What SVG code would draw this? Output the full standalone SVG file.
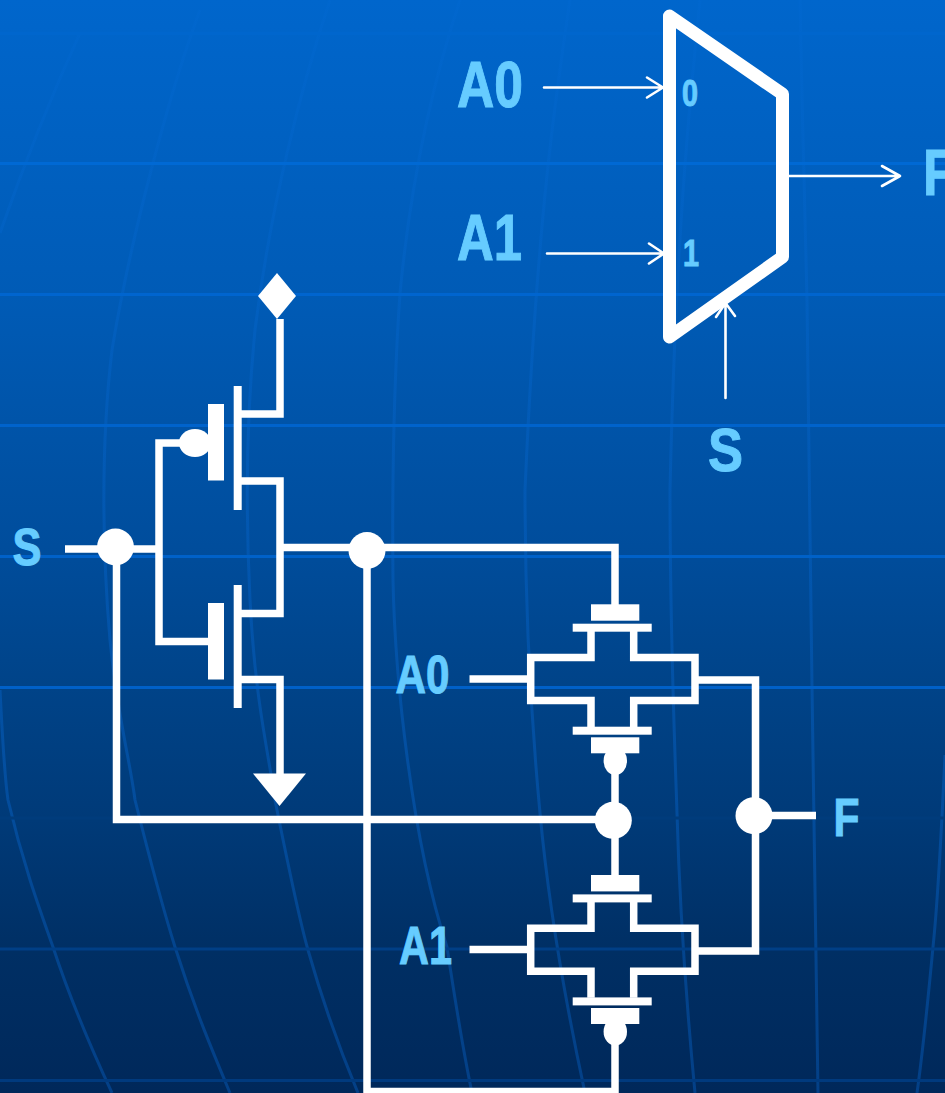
<svg xmlns="http://www.w3.org/2000/svg" xmlns:xlink="http://www.w3.org/1999/xlink" width="945" height="1093" viewBox="0 0 945 1093">
<style>
.w{fill:none;stroke:#fff;stroke-width:7.5;stroke-linecap:butt;stroke-linejoin:miter}
.f{fill:#fff;stroke:none}
.a{fill:none;stroke:#fff;stroke-width:2.6;stroke-linecap:round;stroke-linejoin:round}
.m{stroke:url(#cv);stroke-width:3;fill:none}
text{font-family:"Liberation Sans",Arial,sans-serif;font-weight:bold;fill:#66ccff;stroke:#66ccff;stroke-width:1}
</style>
<defs>
<linearGradient id="bg" x1="0" y1="0" x2="0" y2="1">
<stop offset="0" stop-color="#0066cc"/>
<stop offset=".27" stop-color="#005bb6"/>
<stop offset=".5" stop-color="#004d9c"/>
<stop offset=".63" stop-color="#004388"/>
<stop offset=".75" stop-color="#003a78"/>
<stop offset=".87" stop-color="#002f64"/>
<stop offset="1" stop-color="#00285a"/>
</linearGradient>
<linearGradient id="cv" gradientUnits="userSpaceOnUse" x1="0" y1="0" x2="0" y2="1093">
<stop offset="0" stop-color="#0a72e6" stop-opacity=".08"/>
<stop offset=".3" stop-color="#0a72e6" stop-opacity=".2"/>
<stop offset=".7" stop-color="#0a72e6" stop-opacity=".32"/>
<stop offset="1" stop-color="#0a72e6" stop-opacity=".32"/>
</linearGradient>
<g id="tgate">
<rect class="f" x="591" y="604.3" width="48.3" height="16.4"/>
<rect class="f" x="572.7" y="623.7" width="79" height="8"/>
<rect class="f" x="572.7" y="726.7" width="79" height="8"/>
<rect class="f" x="591" y="737.3" width="48.3" height="16"/>
<ellipse class="f" cx="615.3" cy="761" rx="11.7" ry="14"/>
<path class="w" d="M591 631V657.5H530.7V700.5H591V727M633.7 631V657.5H695V700.5H633.7V727"/>
</g>
</defs>
<g id="background">
<rect width="945" height="1093" fill="url(#bg)"/>
<g>
<path class="m" d="M80 33C45 110 15 190 0 233"/>
<path class="m" d="M200 10C170 90 130 240 112 350C100 450 103 560 110 640C118 720 130 760 135 800C150 860 165 915 175 947C195 1010 212 1050 230 1093"/>
<path class="m" d="M330 0C300 90 270 210 255 330C245 430 246 520 250 600C255 700 268 750 275 800C287 860 298 915 308 950C325 1010 340 1050 358 1093"/>
<path class="m" d="M460 0C430 90 410 190 400 293C394 380 392 480 393 580C395 680 412 840 447 947C455 1000 463 1050 472 1093"/>
<path class="m" d="M570 0C555 100 537 220 525 490C525 640 535 760 540 813C548 900 565 1000 585 1093"/>
<path class="m" d="M700 0C690 100 676 230 670 490C670 640 676 780 677 813C680 920 688 1020 695 1093"/>
<path class="m" d="M800 0C802 100 805 230 807 300C809 450 811 600 812 687C814 850 816 980 818 1093"/>
<path class="m" d="M0 690C2 730 5 780 8 800C22 860 38 905 53 947C72 1005 92 1050 112 1093"/>
<path class="m" d="M945 755C942 820 938 900 933 947C928 1000 923 1050 917 1093"/>
</g>
<g fill="none" stroke-width="3">
<path stroke="#0066cd" d="M0 33.5H945"/>
<path stroke="#0069d4" d="M0 163.5H945"/>
<path stroke="#0065cf" d="M0 294.5H945"/>
<path stroke="#0063cc" d="M0 425.5H945"/>
<path stroke="#0061c8" d="M0 556.5H945"/>
<path stroke="#0060c8" d="M0 687.5H945"/>
<path stroke="#003c7c" d="M0 818H945"/>
<path stroke="#003f86" d="M0 949H945"/>
<path stroke="#003a7e" d="M0 1080.5H945"/>
</g>
</g>
<g id="connectors">
<path class="w" d="M280 319V414H241"/>
<path class="w" d="M241 481H280V613.5H241"/>
<path class="w" d="M241 679.5H280V775"/>
<path class="w" d="M180 443H159V641.5H208"/>
<path class="w" d="M65 549H159"/>
<path class="w" d="M116.5 550V819.5H613"/>
<path class="w" d="M280 547.5H615V605"/>
<path class="w" d="M367 550V1091.5H615V1030"/>
<path class="w" d="M615 770V877"/>
<path class="w" d="M469.5 679H528"/>
<path class="w" d="M469.5 949.5H528"/>
<path class="w" d="M698 680H755.5V951H698"/>
<path class="w" d="M754 815.5H816"/>
<path class="a" d="M544 87.5H663M647 77.5L663 87.5L647 97.5"/>
<path class="a" d="M547 253.5H664M649 243.5L664 253.5L649 263.5"/>
<path class="a" d="M788 176H900M882 166L900 176L882 186"/>
<path class="a" d="M725.5 398V303M716 317L725.5 303L735 316"/>
</g>
<g id="mux">
<path d="M669.5 16L782.5 94V257L669.5 337Z" fill="none" stroke="#fff" stroke-width="13" stroke-linejoin="round"/>
<text x="682" y="106" font-size="36" textLength="16" lengthAdjust="spacingAndGlyphs">0</text>
<text x="683" y="266" font-size="36" textLength="16" lengthAdjust="spacingAndGlyphs">1</text>
</g>
<g id="mux-labels">
<text x="457" y="107" font-size="64" textLength="66" lengthAdjust="spacingAndGlyphs">A0</text>
<text x="457" y="260" font-size="64" textLength="65" lengthAdjust="spacingAndGlyphs">A1</text>
<text x="923" y="195" font-size="64" textLength="32" lengthAdjust="spacingAndGlyphs">F</text>
<text x="708" y="471" font-size="62" textLength="35" lengthAdjust="spacingAndGlyphs">S</text>
</g>
<g id="vdd"><polygon class="f" points="277,273 296,296 277,319 258,296"/></g>
<g id="gnd"><polygon class="f" points="253,773.5 306,773.5 279.5,806"/></g>
<g id="pmos">
<rect class="f" x="233.7" y="386" width="8" height="124"/>
<rect class="f" x="208" y="404" width="16" height="76.5"/>
<ellipse class="f" cx="195" cy="443" rx="16" ry="14"/>
</g>
<g id="nmos">
<rect class="f" x="233.7" y="585" width="8" height="123"/>
<rect class="f" x="208" y="603" width="16" height="76.5"/>
</g>
<g id="tgate0"><use href="#tgate" xlink:href="#tgate"/></g>
<g id="tgate1"><use href="#tgate" xlink:href="#tgate" y="270.7"/></g>
<g id="junctions">
<circle class="f" cx="115.5" cy="547" r="18.5"/>
<circle class="f" cx="367" cy="550.5" r="18.5"/>
<circle class="f" cx="613.3" cy="820.3" r="18.5"/>
<circle class="f" cx="754" cy="815.7" r="18.5"/>
</g>
<g id="circuit-labels">
<text x="12.5" y="565" font-size="52" textLength="29" lengthAdjust="spacingAndGlyphs">S</text>
<text x="395.5" y="693" font-size="53" textLength="54" lengthAdjust="spacingAndGlyphs">A0</text>
<text x="399" y="964" font-size="53" textLength="53" lengthAdjust="spacingAndGlyphs">A1</text>
<text x="833.5" y="835.5" font-size="53" textLength="26" lengthAdjust="spacingAndGlyphs">F</text>
</g>
</svg>
